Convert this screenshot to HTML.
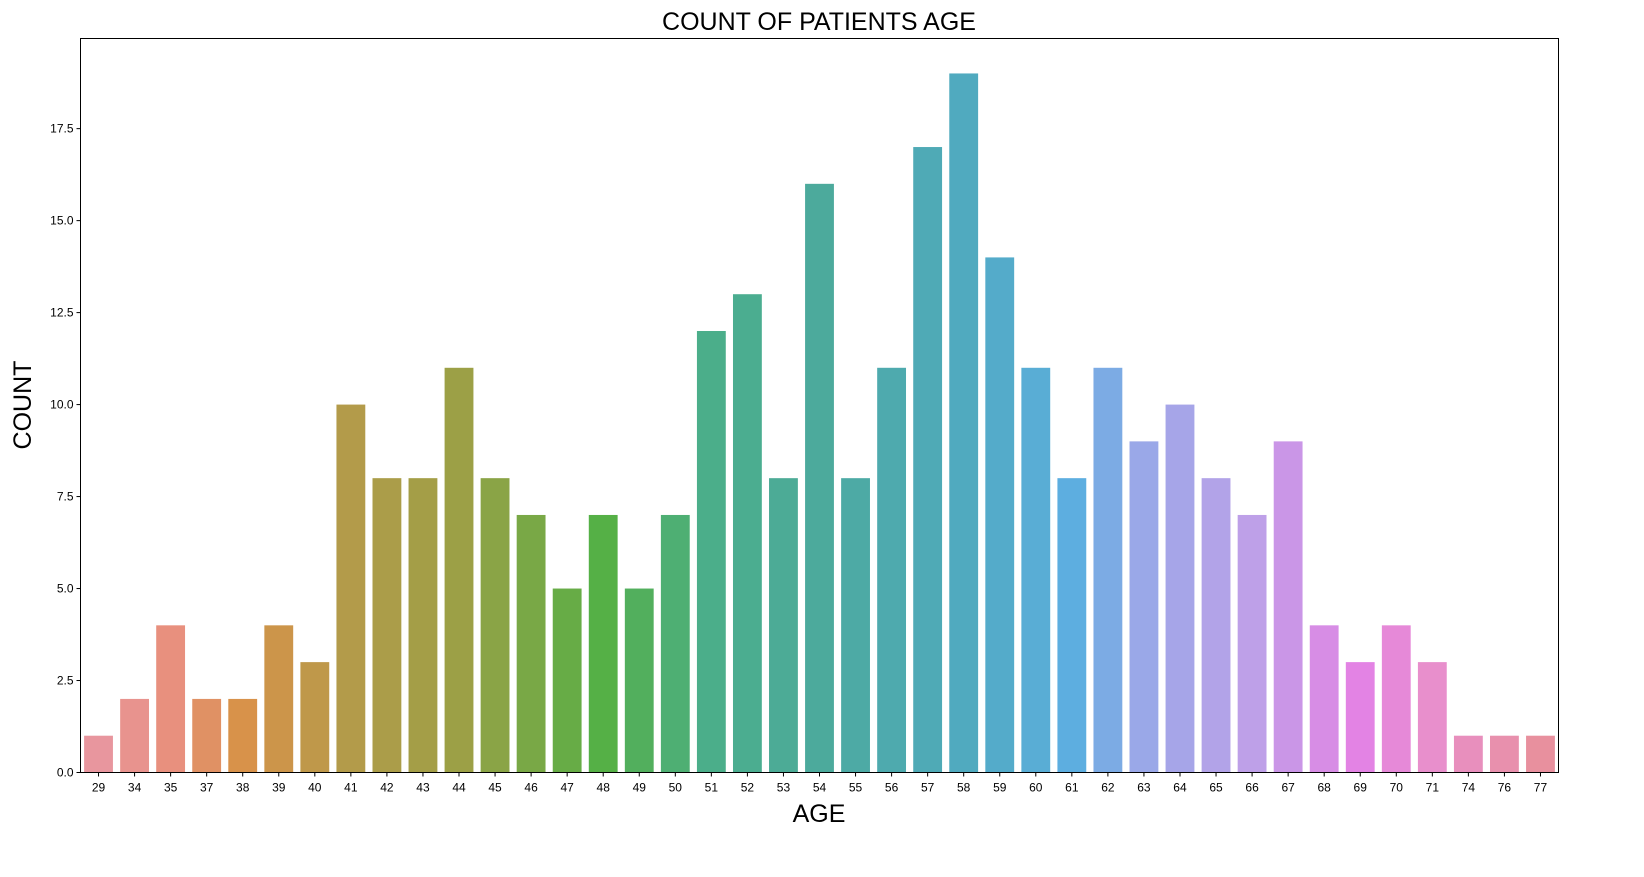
<!DOCTYPE html>
<html><head><meta charset="utf-8"><style>
body{margin:0;background:#fff;}
svg{display:block;font-family:"Liberation Sans","DejaVu Sans",sans-serif;}
</style></head><body>
<svg id="chart" width="1644" height="877" xmlns="http://www.w3.org/2000/svg">
<text x="819" y="30" font-size="25" text-anchor="middle">COUNT OF PATIENTS AGE</text>
<text x="819" y="822" font-size="25" text-anchor="middle">AGE</text>
<text transform="translate(31,405) rotate(-90)" font-size="25" text-anchor="middle">COUNT</text>
<g id="bars"></g><g id="yticks"></g><g id="xticks"></g>
<rect x="80.5" y="38.5" width="1478" height="734" fill="none" stroke="#000" stroke-width="1"/>
</svg>
<script>
const categories=["29","34","35","37","38","39","40","41","42","43","44","45","46","47","48","49","50","51","52","53","54","55","56","57","58","59","60","61","62","63","64","65","66","67","68","69","70","71","74","76","77"];
const counts=[1,2,4,2,2,4,3,10,8,8,11,8,7,5,7,5,7,12,13,8,16,8,11,17,19,14,11,8,11,9,10,8,7,9,4,3,4,3,1,1,1];
const yTicks=[0,2.5,5,7.5,10,12.5,15,17.5];
const L=80.5,R=1558.5,T=38.5,B=772.5;
const ymax=Math.max(...counts)*1.05;
const y=v=>B-(v/ymax)*(B-T);
const step=(R-L)/categories.length;
const x=i=>L+step*(i+0.5);
const stops=[[0,"#e8969e"],[2,"#e8907e"],[4,"#d8924a"],[7,"#b39b4a"],[10,"#9ca046"],[14,"#55b046"],[17,"#4bae8a"],[20,"#4caa9c"],[24,"#50aabf"],[27,"#5daee0"],[29,"#9aa8e8"],[32,"#bea0e8"],[35,"#e383e4"],[37,"#e88fcc"],[40,"#e8909e"]];
function hex(h){return[1,3,5].map(k=>parseInt(h.substr(k,2),16));}
function col(i){for(let k=0;k<stops.length-1;k++){const[a,ca]=stops[k],[b,cb]=stops[k+1];if(i>=a&&i<=b){const t=(i-a)/(b-a||1),A=hex(ca),Bc=hex(cb);return"rgb("+A.map((v,j)=>Math.round(v+(Bc[j]-v)*t)).join(",")+")";}}return stops[stops.length-1][1];}
const NS="http://www.w3.org/2000/svg";
const gb=document.getElementById("bars"),gy=document.getElementById("yticks"),gx=document.getElementById("xticks");
counts.forEach((v,i)=>{
 const r=document.createElementNS(NS,"rect");
 
 
 const w=step*0.8;
 r.setAttribute("x",x(i)-w/2);r.setAttribute("width",w);
 r.setAttribute("y",y(v));r.setAttribute("height",B-y(v));
 r.setAttribute("fill",col(i));
 gb.appendChild(r);
});
categories.forEach((c,i)=>{
 const l=document.createElementNS(NS,"line");
 
 
 l.setAttribute("x1",x(i));l.setAttribute("x2",x(i));l.setAttribute("y1",B);l.setAttribute("y2",B+4);l.setAttribute("stroke","#000");
 gx.appendChild(l);
 const t=document.createElementNS(NS,"text");
 
 
 t.setAttribute("x",x(i));t.setAttribute("y",B+19);t.setAttribute("font-size","12");t.setAttribute("text-anchor","middle");
 t.textContent=c;gx.appendChild(t);
});
yTicks.forEach(v=>{
 const l=document.createElementNS(NS,"line");
 
 
 l.setAttribute("x1",L-4);l.setAttribute("x2",L);l.setAttribute("y1",y(v));l.setAttribute("y2",y(v));l.setAttribute("stroke","#000");
 gy.appendChild(l);
 const t=document.createElementNS(NS,"text");
 
 
 t.setAttribute("x",L-7);t.setAttribute("y",y(v)+4);t.setAttribute("font-size","12");t.setAttribute("text-anchor","end");
 t.textContent=v.toFixed(1);gy.appendChild(t);
});
</script>
</body></html>
